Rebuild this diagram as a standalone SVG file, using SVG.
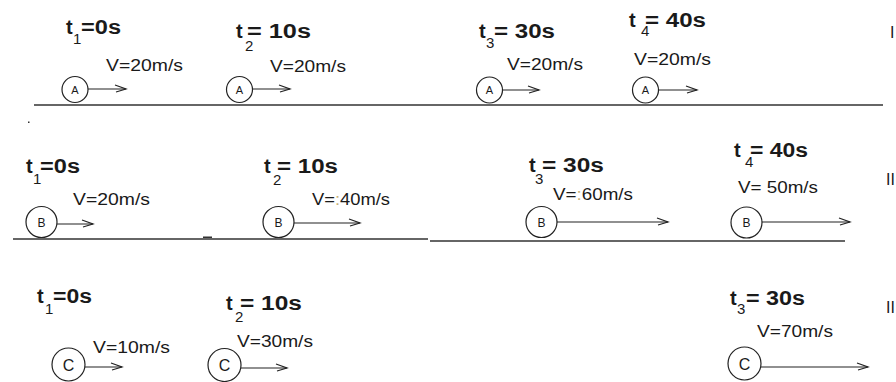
<svg xmlns="http://www.w3.org/2000/svg" width="896" height="382" viewBox="0 0 896 382">
<style>
  text { font-family: "Liberation Sans", Arial, sans-serif; fill: #1a1a1a; }
  .t { font-size: 20px; font-weight: bold; }
  .sub { font-size: 15px; }
  .v { font-size: 17px; }
  .la { font-size: 11px; text-anchor: middle; }
  .lb { font-size: 12px; text-anchor: middle; }
  .lc { font-size: 16px; text-anchor: middle; }
  .rn { font-size: 16px; }
  .ball { fill: #fff; stroke: #222; stroke-width: 1.2; }
  .ground { stroke: #333; stroke-width: 1.5; fill: none; }
  .vel { stroke: #222; stroke-width: 1.2; fill: none; marker-end: url(#open); }
  .faint { fill: #c9b27a; }
</style>
<defs>
  <marker id="open" markerUnits="userSpaceOnUse" markerWidth="14" markerHeight="10" refX="11" refY="4" orient="auto" overflow="visible">
    <path d="M0,0 L11,4 L1,7" fill="none" stroke="#222" stroke-width="1.2"/>
  </marker>
</defs>

<!-- ground lines -->
<g id="ground">
  <line class="ground" x1="34" y1="105" x2="883" y2="105"/>
  <line class="ground" x1="13" y1="239" x2="428" y2="239"/>
  <line class="ground" x1="430" y1="241" x2="845" y2="241"/>
  <rect x="203" y="236.5" width="9" height="1.5" fill="#333"/>
  <rect x="28" y="121.5" width="1.5" height="1.5" fill="#333"/>
</g>

<!-- velocity arrows -->
<g id="connectors">
  <line class="vel" x1="88" y1="89" x2="126" y2="89"/>
  <line class="vel" x1="252" y1="89" x2="290" y2="89"/>
  <line class="vel" x1="503" y1="90" x2="539" y2="90"/>
  <line class="vel" x1="659" y1="90" x2="697" y2="90"/>

  <line class="vel" x1="57" y1="224" x2="93" y2="224"/>
  <line class="vel" x1="294" y1="223" x2="360" y2="223"/>
  <line class="vel" x1="557" y1="222" x2="668" y2="222"/>
  <line class="vel" x1="762" y1="222" x2="850" y2="222"/>

  <line class="vel" x1="85" y1="367" x2="122" y2="367"/>
  <line class="vel" x1="241" y1="368" x2="287" y2="368"/>
  <line class="vel" x1="761" y1="367" x2="868" y2="367"/>
</g>

<!-- Row I : ball A -->
<g id="A1">
  <text class="t" x="66" y="34">t</text><text class="sub" x="73" y="44">1</text>
  <text class="t" x="81" y="34" textLength="40" lengthAdjust="spacingAndGlyphs">=0s</text>
  <text class="v" x="106" y="71" textLength="77" lengthAdjust="spacingAndGlyphs">V=20m/s</text>
  <circle class="ball" cx="75" cy="89.5" r="13"/><text class="la" x="75" y="93.5">A</text>
</g>
<g id="A2">
  <text class="t" x="236" y="38">t</text><text class="sub" x="245" y="51">2</text>
  <text class="t" x="247" y="38" textLength="64" lengthAdjust="spacingAndGlyphs">= 10s</text>
  <text class="v" x="270" y="72" textLength="76" lengthAdjust="spacingAndGlyphs">V=20m/s</text>
  <circle class="ball" cx="239.5" cy="89.5" r="13"/><text class="la" x="239.5" y="93.5">A</text>
</g>
<g id="A3">
  <text class="t" x="479" y="38">t</text><text class="sub" x="486" y="48">3</text>
  <text class="t" x="494" y="38" textLength="61" lengthAdjust="spacingAndGlyphs">= 30s</text>
  <text class="v" x="507" y="70" textLength="76" lengthAdjust="spacingAndGlyphs">V=20m/s</text>
  <circle class="ball" cx="489.5" cy="90" r="13"/><text class="la" x="489.5" y="94">A</text>
</g>
<g id="A4">
  <text class="t" x="629" y="27">t</text><text class="sub" x="641" y="36">4</text>
  <text class="t" x="645" y="27" textLength="61" lengthAdjust="spacingAndGlyphs">= 40s</text>
  <text class="v" x="634" y="65" textLength="77" lengthAdjust="spacingAndGlyphs">V=20m/s</text>
  <circle class="ball" cx="645.5" cy="90" r="13"/><text class="la" x="645.5" y="94">A</text>
</g>
<g id="label-I"><text class="rn" x="890" y="38">I</text></g>

<!-- Row II : ball B -->
<g id="B1">
  <text class="t" x="26" y="173">t</text><text class="sub" x="33" y="184">1</text>
  <text class="t" x="40" y="173" textLength="40" lengthAdjust="spacingAndGlyphs">=0s</text>
  <text class="v" x="73" y="205" textLength="77" lengthAdjust="spacingAndGlyphs">V=20m/s</text>
  <circle class="ball" cx="41.5" cy="222" r="15.5"/><text class="lb" x="41.5" y="226.5">B</text>
</g>
<g id="B2">
  <text class="t" x="264" y="173">t</text><text class="sub" x="273" y="185">2</text>
  <text class="t" x="277" y="173" textLength="61" lengthAdjust="spacingAndGlyphs">= 10s</text>
  <text class="v" x="312" y="205" textLength="78" lengthAdjust="spacingAndGlyphs">V=<tspan class="faint">:</tspan>40m/s</text>
  <circle class="ball" cx="278.5" cy="222" r="15.5"/><text class="lb" x="278.5" y="226.5">B</text>
</g>
<g id="B3">
  <text class="t" x="529" y="172">t</text><text class="sub" x="535" y="184">3</text>
  <text class="t" x="542" y="172" textLength="62" lengthAdjust="spacingAndGlyphs">= 30s</text>
  <text class="v" x="553" y="200" textLength="80" lengthAdjust="spacingAndGlyphs">V=<tspan class="faint">:</tspan>60m/s</text>
  <circle class="ball" cx="541.5" cy="222" r="15.5"/><text class="lb" x="541.5" y="226.5">B</text>
</g>
<g id="B4">
  <text class="t" x="734" y="157">t</text><text class="sub" x="745" y="167">4</text>
  <text class="t" x="750" y="157" textLength="58" lengthAdjust="spacingAndGlyphs">= 40s</text>
  <text class="v" x="738" y="193" textLength="80" lengthAdjust="spacingAndGlyphs">V= 50m/s</text>
  <circle class="ball" cx="746.5" cy="222.5" r="15.5"/><text class="lb" x="746.5" y="227">B</text>
</g>
<g id="label-II"><text class="rn" x="886" y="185">II</text></g>

<!-- Row III : ball C -->
<g id="C1">
  <text class="t" x="37" y="303">t</text><text class="sub" x="45" y="314">1</text>
  <text class="t" x="53" y="303" textLength="39" lengthAdjust="spacingAndGlyphs">=0s</text>
  <text class="v" x="93" y="353" textLength="77" lengthAdjust="spacingAndGlyphs">V=10m/s</text>
  <circle class="ball" cx="68.5" cy="364.5" r="16.5"/><text class="lc" x="68.5" y="370.5">C</text>
</g>
<g id="C2">
  <text class="t" x="226" y="310">t</text><text class="sub" x="235" y="322">2</text>
  <text class="t" x="240" y="310" textLength="62" lengthAdjust="spacingAndGlyphs">= 10s</text>
  <text class="v" x="237" y="347" textLength="76" lengthAdjust="spacingAndGlyphs">V=30m/s</text>
  <circle class="ball" cx="224.5" cy="365" r="16.5"/><text class="lc" x="224.5" y="371">C</text>
</g>
<g id="C3">
  <text class="t" x="730" y="305">t</text><text class="sub" x="737" y="314">3</text>
  <text class="t" x="746" y="305" textLength="59" lengthAdjust="spacingAndGlyphs">= 30s</text>
  <text class="v" x="757" y="337" textLength="76" lengthAdjust="spacingAndGlyphs">V=70m/s</text>
  <circle class="ball" cx="744.5" cy="363.5" r="16.5"/><text class="lc" x="744.5" y="369.5">C</text>
</g>
<g id="label-III"><text class="rn" x="886" y="313">II</text></g>
</svg>
